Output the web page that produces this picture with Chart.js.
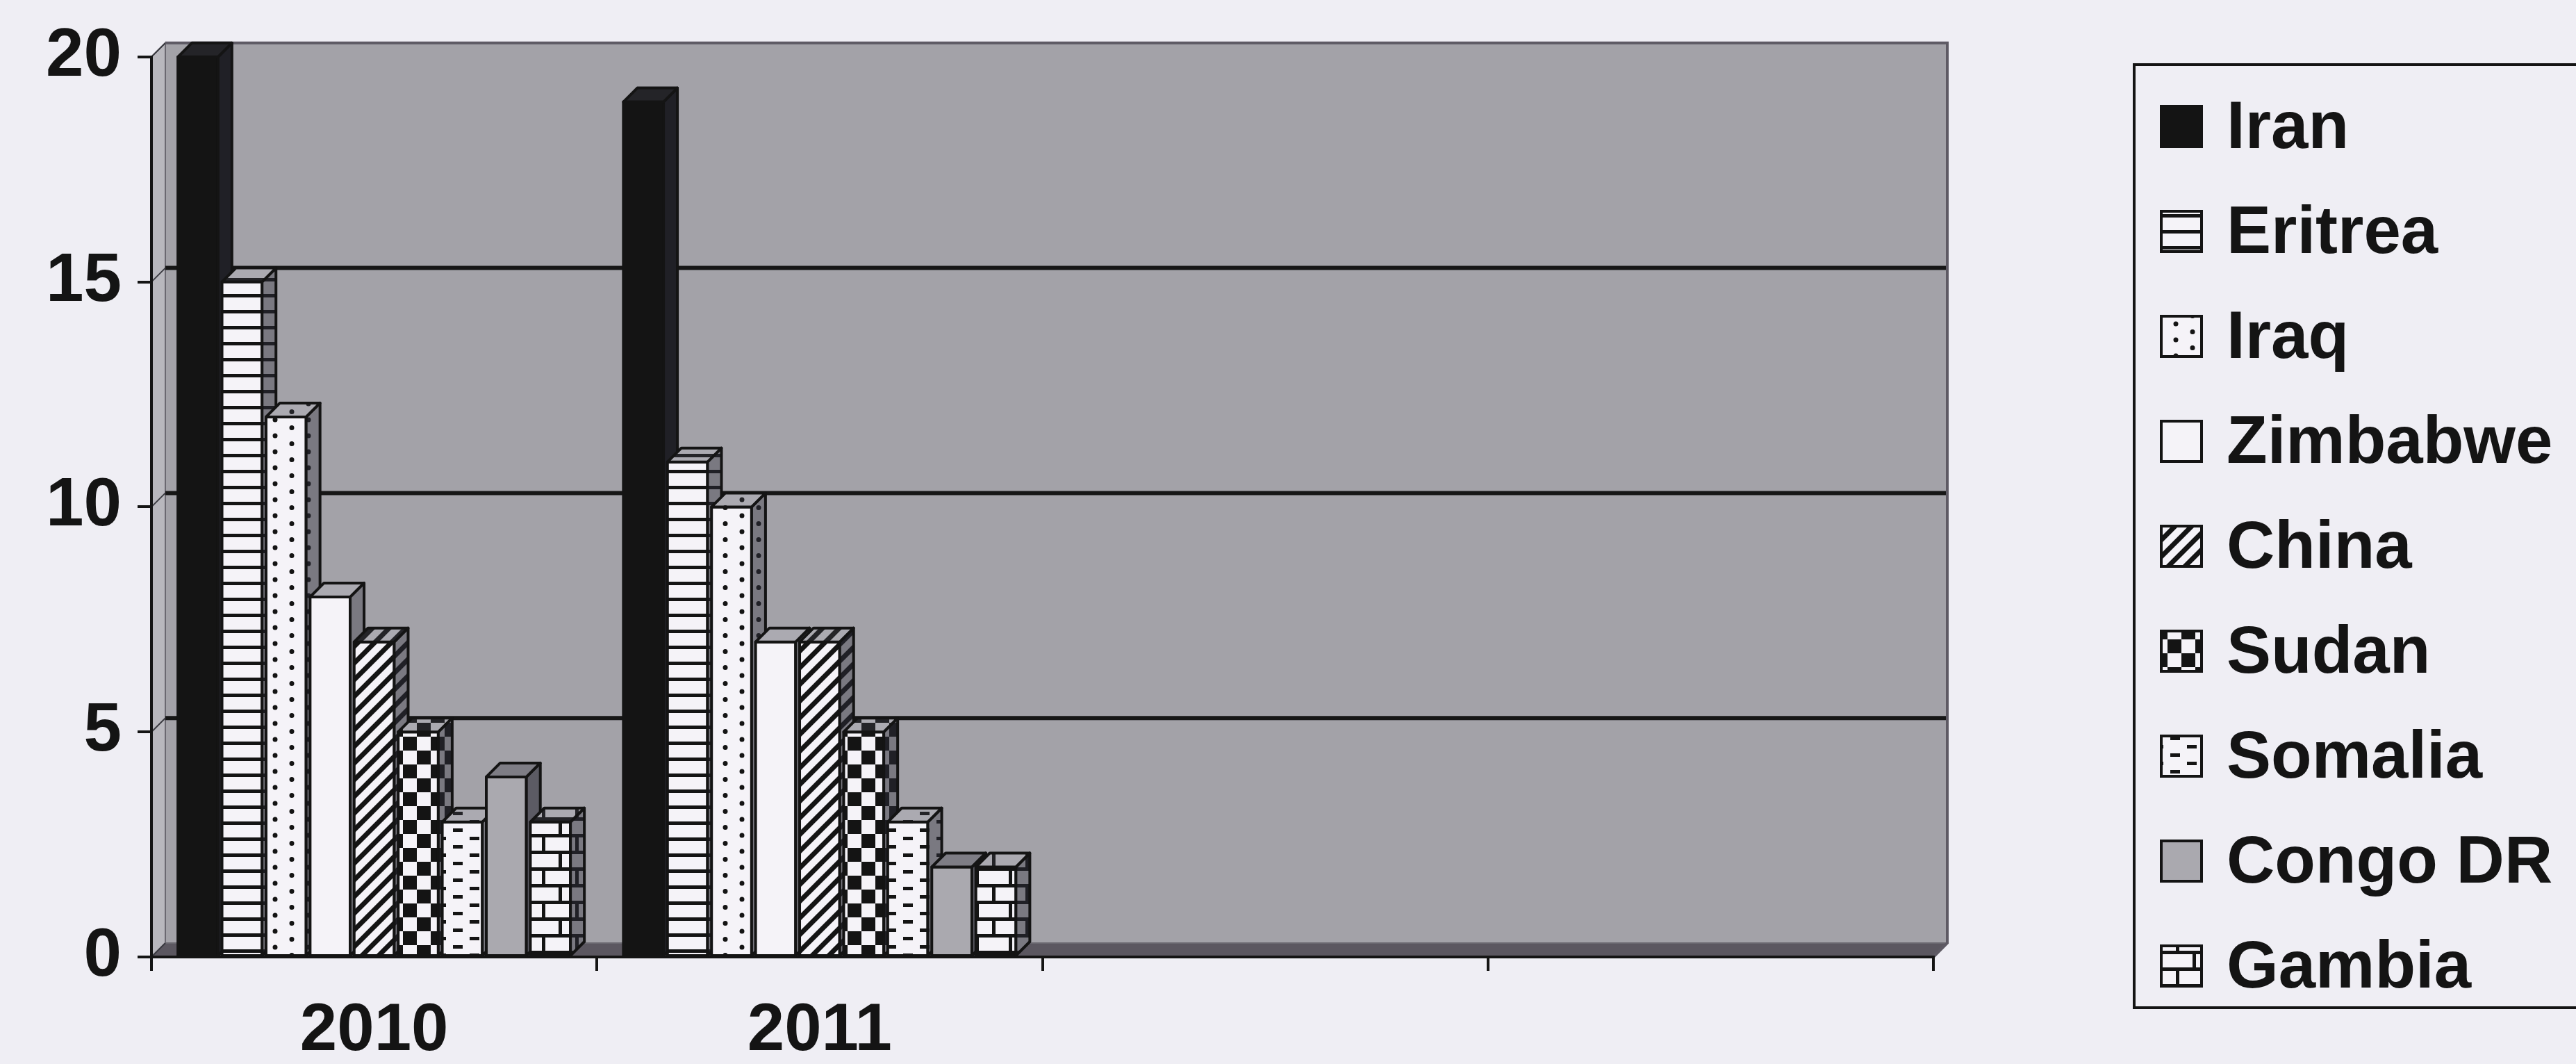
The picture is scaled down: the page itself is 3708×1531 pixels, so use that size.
<!DOCTYPE html>
<html>
<head>
<meta charset="utf-8">
<script src="https://cdn.jsdelivr.net/npm/chart.js@4.4.1/dist/chart.umd.min.js"></script>
<style>
  html, body { margin: 0; padding: 0; background: #efeef4; }
  #wrap { width: 3708px; height: 1531px; }
</style>
</head>
<body>
<div id="wrap"><canvas id="refugeeChart" width="3708" height="1531"></canvas></div>
<script>
// categories / series
const years = ["2010", "2011", "", ""];
const countries = ["Iran", "Eritrea", "Iraq", "Zimbabwe", "China", "Sudan", "Somalia", "Congo DR", "Gambia"];

const iran = [20, 19, null, null];
const eritrea = [15, 11, null, null];
const iraq = [12, 10, null, null];
const zimbabwe = [8, 7, null, null];
const china = [7, 7, null, null];
const sudan = [5, 5, null, null];
const somalia = [3, 3, null, null];
const congoDR = [4, 2, null, null];
const gambia = [3, 2, null, null];

const yTicks = [0, 5, 10, 15, 20];

const seriesValues = [iran, eritrea, iraq, zimbabwe, china, sudan, somalia, congoDR, gambia];

// look
const PAGE = "#efeef4";
const WALL = "#a3a2a8";
const SIDE_WALL = "#b8b7bd";
const FLOOR = "#5b5760";
const INK = "#141414";
const PAPER = "#f5f3f8";
const DX = 20;   // 3d depth
const DY = -20;
const FONT = "'Liberation Sans', Arial, Helvetica, sans-serif";

const canvas = document.getElementById("refugeeChart");
const ctx = canvas.getContext("2d");

function makePattern(w, h, paint) {
  const tile = document.createElement("canvas");
  tile.width = w;
  tile.height = h;
  const t = tile.getContext("2d");
  t.fillStyle = PAPER;
  t.fillRect(0, 0, w, h);
  t.fillStyle = INK;
  t.strokeStyle = INK;
  paint(t);
  return ctx.createPattern(tile, "repeat");
}

const fills = [
  INK,
  makePattern(20, 23, (t) => t.fillRect(0, 9, 20, 5)),
  makePattern(48, 23, (t) => {
    t.beginPath();
    t.arc(12, 6, 3.5, 0, Math.PI * 2);
    t.arc(36, 17.5, 3.5, 0, Math.PI * 2);
    t.fill();
  }),
  PAPER,
  makePattern(24, 24, (t) => {
    t.lineWidth = 7;
    t.beginPath();
    t.moveTo(-6, 30); t.lineTo(30, -6);
    t.moveTo(-18, 18); t.lineTo(18, -18);
    t.moveTo(6, 42); t.lineTo(42, 6);
    t.stroke();
  }),
  makePattern(40, 40, (t) => {
    t.fillRect(0, 0, 20, 20);
    t.fillRect(20, 20, 20, 20);
  }),
  makePattern(48, 24, (t) => {
    t.fillRect(4, 4, 14, 5);
    t.fillRect(28, 16, 14, 5);
  }),
  "#aaa9af",
  makePattern(48, 48, (t) => {
    t.fillRect(0, 0, 48, 5);
    t.fillRect(0, 24, 48, 5);
    t.fillRect(12, 0, 5, 24);
    t.fillRect(36, 24, 5, 24);
  }),
];

function poly(c, pts, fill, overlay) {
  c.beginPath();
  c.moveTo(pts[0][0], pts[0][1]);
  for (let i = 1; i < pts.length; i++) c.lineTo(pts[i][0], pts[i][1]);
  c.closePath();
  c.fillStyle = fill;
  c.fill();
  if (overlay) {
    c.fillStyle = overlay;
    c.fill();
  }
  c.stroke();
}

const wallsPlugin = {
  id: "walls",
  beforeDraw(chart) {
    const { ctx: c, chartArea: a, scales } = chart;
    c.save();
    c.fillStyle = PAGE;
    c.fillRect(0, 0, chart.width, chart.height);

    c.fillStyle = WALL;
    c.fillRect(a.left + DX, a.top + DY, a.right - a.left, a.bottom - a.top);

    c.lineWidth = 2;
    c.strokeStyle = "#6a6870";
    poly(c, [[a.left, a.top], [a.left + DX, a.top + DY], [a.left + DX, a.bottom + DY], [a.left, a.bottom]], SIDE_WALL);
    poly(c, [[a.left, a.bottom], [a.left + DX, a.bottom + DY], [a.right + DX, a.bottom + DY], [a.right, a.bottom]], FLOOR);

    yTicks.forEach((v) => {
      const py = scales.y.getPixelForValue(v);
      if (v > 0 && v < 20) {
        c.strokeStyle = "#161616";
        c.lineWidth = 6;
        c.beginPath();
        c.moveTo(a.left + DX, py + DY);
        c.lineTo(a.right + DX, py + DY);
        c.stroke();
      }
      c.strokeStyle = "#3a3a40";
      c.lineWidth = 2;
      c.beginPath();
      c.moveTo(a.left, py);
      c.lineTo(a.left + DX, py + DY);
      c.stroke();
    });

    // top + right edge of the back wall
    c.strokeStyle = "#5e5a64";
    c.lineWidth = 4;
    c.beginPath();
    c.moveTo(a.left + DX, a.top + DY);
    c.lineTo(a.right + DX, a.top + DY);
    c.lineTo(a.right + DX, a.bottom + DY);
    c.lineTo(a.right, a.bottom);
    c.stroke();
    c.restore();
  },
};

const bars3dPlugin = {
  id: "bars3d",
  afterDatasetsDraw(chart) {
    const c = chart.ctx;
    c.save();
    c.strokeStyle = INK;
    c.lineWidth = 4;
    c.lineJoin = "round";
    for (let i = 0; i < years.length; i++) {
      chart.data.datasets.forEach((ds, d) => {
        if (ds.data[i] == null) return;
        const el = chart.getDatasetMeta(d).data[i];
        const { x, y, base, width } = el.getProps(["x", "y", "base", "width"], true);
        const l = x - width / 2;
        const r = x + width / 2;
        poly(c, [[l, y], [r, y], [r, base], [l, base]], fills[d]);
        poly(c, [[r, y], [r + DX, y + DY], [r + DX, base + DY], [r, base]], fills[d], "rgba(40,40,50,0.6)");
        poly(c, [[l, y], [l + DX, y + DY], [r + DX, y + DY], [r, y]], fills[d], "rgba(60,60,70,0.4)");
      });
    }
    c.restore();
  },
};

const legendBoxPlugin = {
  id: "legendBox",
  afterDraw(chart) {
    const c = chart.ctx;
    const lx = chart.chartArea.right + 289;
    const ly = 93;
    c.save();
    c.fillStyle = PAGE;
    c.fillRect(lx, ly, 700, 1357);
    c.strokeStyle = INK;
    c.lineWidth = 4;
    c.strokeRect(lx, ly, 700, 1357);
    c.font = "bold 96px " + FONT;
    c.textBaseline = "alphabetic";
    c.textAlign = "left";
    countries.forEach((name, k) => {
      const baseline = ly + 120 + k * 151;
      c.fillStyle = fills[k];
      c.fillRect(lx + 39, baseline - 60, 58, 58);
      c.lineWidth = 4;
      c.strokeRect(lx + 39, baseline - 60, 58, 58);
      c.fillStyle = INK;
      c.fillText(name, lx + 133, baseline);
    });
    c.restore();
  },
};

const datasets = countries.map((name, k) => ({
  label: name,
  data: seriesValues[k],
  backgroundColor: "rgba(0,0,0,0)",
  borderWidth: 0,
}));

const axisGrid = {
  offset: true,
  drawOnChartArea: false,
  drawTicks: true,
  tickLength: 20,
  lineWidth: 4,
  color: INK,
};

const chart = new Chart(canvas, {
  type: "bar",
  data: { labels: years, datasets: datasets },
  options: {
    responsive: false,
    animation: false,
    devicePixelRatio: 1,
    layout: { padding: { top: 78, right: 925, bottom: 0, left: 0 } },
    datasets: { bar: { categoryPercentage: 0.89, barPercentage: 0.91 } },
    plugins: {
      legend: { display: false },
      tooltip: { enabled: false },
    },
    scales: {
      x: {
        grid: axisGrid,
        border: { display: true, color: INK, width: 4 },
        ticks: {
          color: INK,
          padding: 30,
          maxRotation: 0,
          font: { family: FONT, size: 96, weight: "bold" },
        },
        afterFit: (scale) => { scale.height = 154; },
      },
      y: {
        min: 0,
        max: 20,
        grid: { ...axisGrid, offset: false },
        border: { display: true, color: INK, width: 4 },
        ticks: {
          stepSize: 5,
          color: INK,
          padding: 23,
          font: { family: FONT, size: 98, weight: "bold" },
        },
        afterFit: (scale) => { scale.width = 218; },
      },
    },
  },
  plugins: [wallsPlugin, bars3dPlugin, legendBoxPlugin],
});
</script>
</body>
</html>
